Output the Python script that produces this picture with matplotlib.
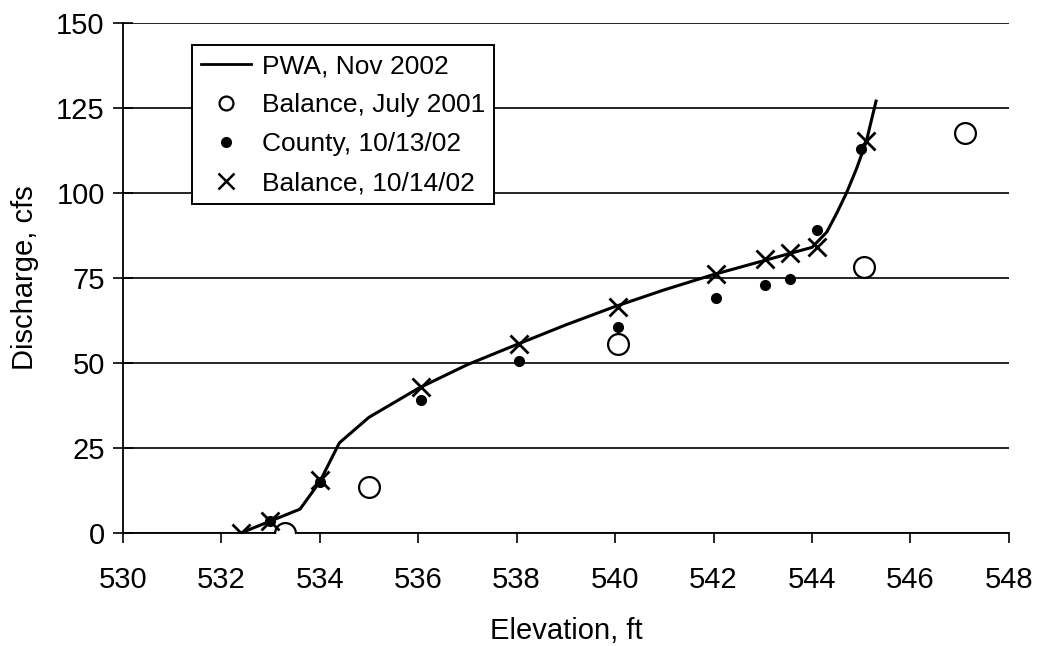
import matplotlib
matplotlib.use("Agg")
import matplotlib.pyplot as plt
from matplotlib.lines import Line2D

plt.rcParams["font.family"] = ["Liberation Sans", "DejaVu Sans"]

# PWA rating curve, Nov 2002
pwa_elev = [532.4, 533.0, 533.6, 534.0, 534.4, 535.0, 536.0, 537.0, 538.0, 539.0,
            540.0, 541.0, 542.0, 543.0, 544.0, 544.3, 544.5, 544.7, 544.9, 545.1, 545.3]
pwa_q = [0, 3.5, 7, 15, 26.5, 34, 42.5, 49.5, 55.4, 61.2,
         66.6, 71.5, 76, 80, 84, 88.5, 94, 100, 107, 115, 127]

# Balance measurements, July 2001
bal01_elev = [533.3, 535.0, 540.05, 545.05, 547.1]
bal01_q = [0, 13.5, 55.5, 78.3, 117.6]

# County measurements, 10/13/02
county_elev = [533.0, 534.0, 536.05, 538.05, 540.05, 542.05, 543.05, 543.55, 544.1, 545.0]
county_q = [3.5, 15, 39.2, 50.7, 60.7, 69, 73, 74.8, 89, 113]

# Balance measurements, 10/14/02
bal02_elev = [532.4, 533.0, 534.0, 536.05, 538.05, 540.05, 542.05, 543.05, 543.55, 544.1, 545.1]
bal02_q = [0, 3.5, 15.5, 42.8, 55.5, 66.6, 76.2, 80.6, 82.4, 84.2, 115.2]

x_ticks = [530, 532, 534, 536, 538, 540, 542, 544, 546, 548]
y_ticks = [0, 25, 50, 75, 100, 125, 150]

fig = plt.figure(figsize=(10.42, 6.46), dpi=100)
ax = fig.add_axes([0.1178, 0.175, 0.8505, 0.7895])

ax.plot(pwa_elev, pwa_q, color="black", linewidth=2.2, zorder=3)
ax.plot(bal01_elev, bal01_q, linestyle="none", marker="o", markersize=15,
        markerfacecolor="white", markeredgecolor="black", markeredgewidth=1.6, zorder=4)
ax.plot(county_elev, county_q, linestyle="none", marker="o", markersize=7,
        color="black", zorder=5)
ax.plot(bal02_elev, bal02_q, linestyle="none", marker="x", markersize=13,
        markeredgewidth=2.0, color="black", zorder=6)

ax.set_xlim(530, 548)
ax.set_ylim(0, 150)
ax.set_xticks(x_ticks)
ax.set_yticks(y_ticks)
ax.tick_params(axis="both", labelsize=21, colors="black")
ax.tick_params(axis="x", direction="out", length=7, width=1.2, pad=17)
ax.tick_params(axis="y", direction="inout", length=14, width=1.2, pad=6)

ax.grid(axis="y", color="black", linewidth=1.2)
ax.set_axisbelow(True)
for side in ["top", "right"]:
    ax.spines[side].set_visible(False)
for side in ["left", "bottom"]:
    ax.spines[side].set_linewidth(1.3)

ax.set_xlabel("Elevation, ft", fontsize=21, labelpad=16)
ax.set_ylabel("Discharge, cfs", fontsize=21, labelpad=12)

handles = [
    Line2D([], [], color="black", linewidth=2.0),
    Line2D([], [], linestyle="none", marker="o", markersize=10,
           markerfacecolor="white", markeredgecolor="black", markeredgewidth=1.6),
    Line2D([], [], linestyle="none", marker="o", markersize=7, color="black"),
    Line2D([], [], linestyle="none", marker="x", markersize=11,
           markeredgewidth=1.8, color="black"),
]
labels = ["PWA, Nov 2002", "Balance, July 2001", "County, 10/13/02", "Balance, 10/14/02"]
leg = ax.legend(handles, labels, loc="upper left", bbox_to_anchor=(0.078, 0.957),
                borderaxespad=0, fontsize=19, frameon=True, fancybox=False,
                edgecolor="black", framealpha=1, handlelength=1.9,
                handletextpad=0.4, labelspacing=0.57, borderpad=0.35)
leg.get_frame().set_linewidth(1.4)
leg.set_zorder(10)

fig.savefig("out.png", dpi=100)
